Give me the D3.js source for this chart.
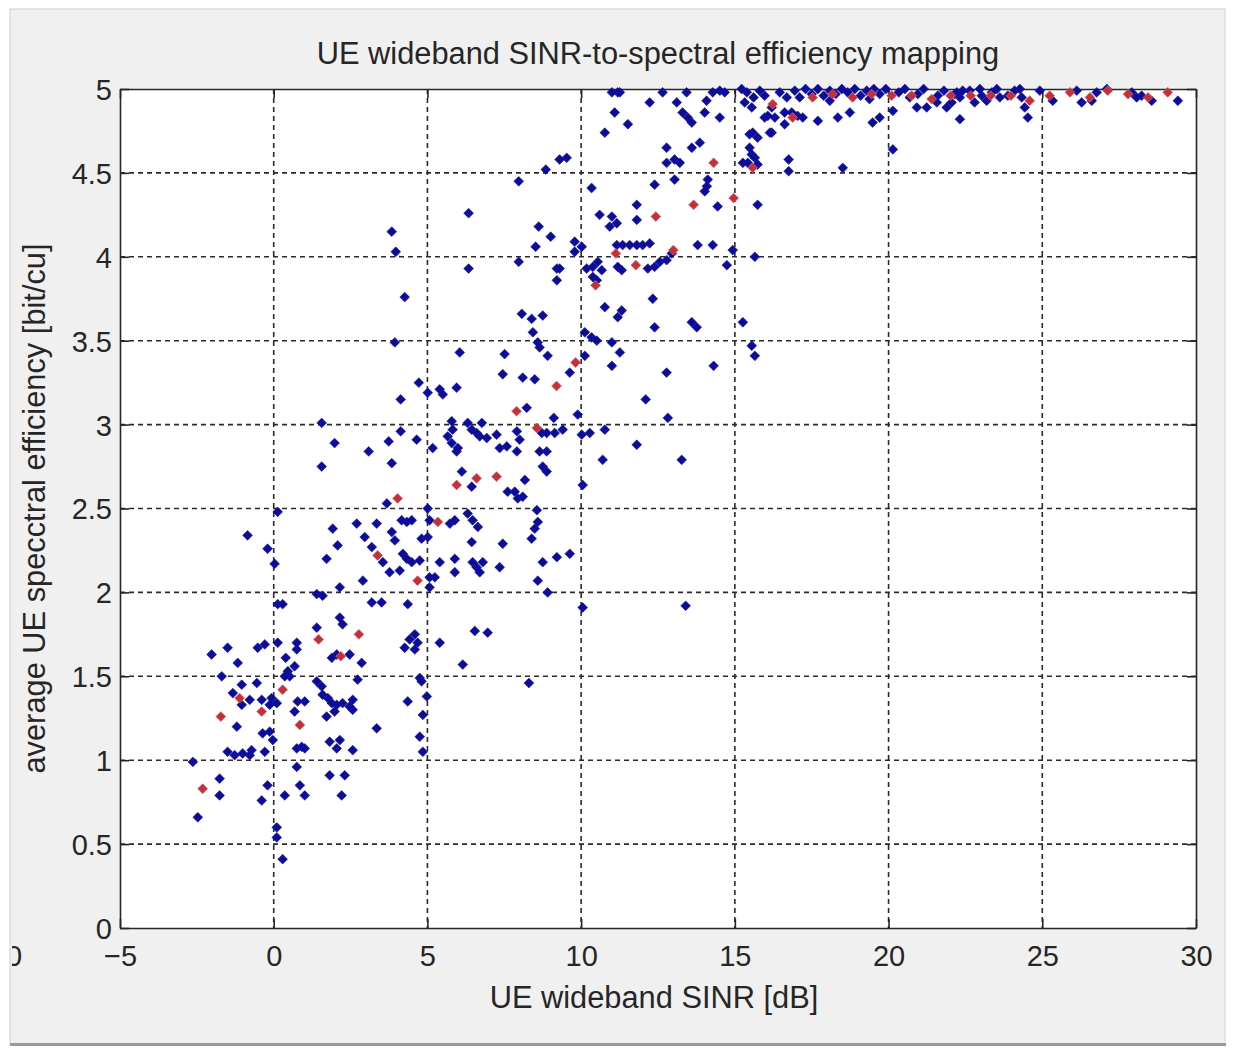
<!DOCTYPE html>
<html>
<head>
<meta charset="utf-8">
<script src="https://cdn.jsdelivr.net/npm/d3@7"></script>
<style>
  html, body { margin: 0; padding: 0; background: #ffffff; }
  svg { display: block; }
  text { font-family: "Liberation Sans", Arial, sans-serif; fill: #262626; }
</style>
</head>
<body>
<svg id="fig" width="1233" height="1049"></svg>
<script>
// Per-UE samples: wideband SINR [dB] and average spectral efficiency [bit/cu]
const uePoints = [
  [-1.50,1.67],[-0.52,1.67],[-0.29,1.69],[0.13,1.70],[0.75,1.70],[0.75,1.66],[-2.02,1.63],[-1.17,1.58],[0.39,1.61],[0.68,1.56],
  [0.46,1.53],[0.52,1.50],[1.89,1.61],[2.05,1.63],[2.47,1.63],[2.86,1.58],[-1.69,1.50],[-1.04,1.45],[-0.55,1.46],[-1.33,1.40],
  [-1.04,1.33],[-0.78,1.36],[-0.39,1.36],[-0.07,1.37],[-0.13,1.33],[0.10,1.34],[0.36,1.50],[1.40,1.47],[1.56,1.44],[1.59,1.39],
  [1.76,1.37],[1.89,1.34],[2.05,1.33],[2.24,1.34],[1.72,1.26],[1.98,1.29],[1.01,1.35],[0.78,1.35],[2.57,1.36],[2.57,1.30],
  [2.47,1.32],[2.73,1.48],[0.68,1.29],[-1.20,1.20],[-0.36,1.16],[-0.13,1.17],[-0.03,1.12],[0.75,1.07],[0.91,1.08],[1.01,1.07],
  [1.82,1.11],[2.15,1.12],[2.05,1.07],[2.57,1.06],[3.35,1.19],[-1.50,1.05],[-1.27,1.03],[-1.01,1.04],[-0.72,1.06],[-0.78,1.03],
  [-0.29,1.05],[-2.63,0.99],[0.75,0.96],[-1.76,0.89],[-1.76,0.79],[-0.20,0.85],[-0.39,0.76],[0.85,0.85],[1.01,0.79],[0.36,0.79],
  [1.82,0.91],[2.31,0.91],[2.21,0.79],[-2.47,0.66],[0.10,0.60],[0.10,0.54],[0.29,0.41],
  [1.56,3.01],[1.98,2.89],[3.09,2.84],[1.56,2.75],[0.13,2.48],[-0.85,2.34],[-0.20,2.26],[0.03,2.17],[1.92,2.38],[2.08,2.28],
  [1.72,2.20],[2.70,2.41],[2.96,2.33],[3.19,2.27],[3.35,2.41],[2.90,2.07],[2.15,2.03],[1.40,1.99],[1.59,1.98],[0.13,1.93],
  [0.29,1.93],[3.19,1.94],[2.15,1.85],[2.24,1.81],[1.40,1.79],
  [3.84,2.77],[6.12,2.72],[6.44,2.63],[8.17,2.67],[8.75,2.75],[8.88,2.72],[7.61,2.60],[7.84,2.60],[7.94,2.56],[8.10,2.57],
  [3.68,2.53],[5.01,2.50],[4.16,2.43],[4.33,2.42],[4.49,2.43],[5.07,2.43],[5.73,2.41],[5.89,2.43],[6.31,2.47],[6.47,2.43],
  [6.64,2.39],[8.56,2.49],[8.59,2.42],[8.49,2.38],[8.39,2.32],[3.84,2.36],[3.94,2.31],[4.81,2.32],[5.01,2.33],[6.44,2.30],
  [7.45,2.29],[4.20,2.23],[4.33,2.20],[4.49,2.18],[4.75,2.19],[5.40,2.18],[5.89,2.20],[5.89,2.12],[6.47,2.18],[6.60,2.15],
  [6.70,2.12],[6.80,2.18],[7.35,2.15],[8.75,2.18],[9.21,2.21],[3.55,2.18],[3.77,2.12],[4.10,2.13],[5.07,2.09],[5.24,2.09],
  [5.07,2.03],[8.59,2.07],[8.91,2.00],[3.51,1.94],[4.36,1.93],[4.59,1.75],[4.42,1.72],[4.26,1.67],[4.59,1.66],[4.68,1.70],
  [5.40,1.70],[6.54,1.77],[6.96,1.76],[6.15,1.57],[4.75,1.49],[4.81,1.47],[8.30,1.46],[4.36,1.35],[4.98,1.38],[4.85,1.27],
  [4.75,1.14],[4.85,1.05],
  [6.34,4.26],[3.84,4.15],[3.97,4.03],[6.34,3.93],[7.97,3.97],[8.62,4.18],[9.01,4.12],[8.52,4.06],[9.21,3.93],[9.21,3.86],
  [4.26,3.76],[8.07,3.66],[8.39,3.63],[8.75,3.65],[8.43,3.55],[8.59,3.49],[8.65,3.46],[8.91,3.41],[3.94,3.49],[6.05,3.43],
  [7.51,3.42],[7.45,3.30],[8.10,3.28],[8.49,3.27],[4.72,3.25],[5.01,3.19],[5.40,3.21],[5.50,3.18],[5.95,3.22],[4.13,3.15],
  [8.23,3.10],[9.11,3.04],[3.74,2.90],[4.13,2.96],[4.65,2.91],[5.17,2.86],[5.79,3.02],[5.82,2.97],[5.66,2.93],[5.79,2.89],
  [5.99,2.86],[5.95,2.84],[6.31,3.01],[6.44,2.97],[6.60,2.95],[6.77,3.01],[6.70,2.93],[6.93,2.92],[7.25,2.94],[7.91,2.96],
  [8.00,2.91],[7.91,2.84],[7.35,2.86],[7.58,2.87],[8.72,2.95],[8.88,2.95],[9.14,2.95],[8.65,2.84],[8.88,2.84],[7.97,4.45],
  [8.85,4.52],
  [11.00,4.98],[11.19,4.98],[11.26,4.98],[12.65,4.98],[12.23,4.92],[13.11,4.92],[13.43,4.98],[14.08,4.93],[14.28,4.98],[14.51,4.99],
  [14.67,4.98],[11.09,4.86],[11.52,4.79],[10.77,4.74],[13.30,4.86],[13.47,4.83],[13.60,4.80],[14.02,4.86],[14.51,4.83],[9.53,4.59],
  [9.30,4.58],[12.78,4.65],[12.78,4.56],[13.04,4.58],[13.21,4.56],[13.60,4.65],[13.86,4.68],[13.04,4.46],[12.39,4.43],[14.12,4.46],
  [14.09,4.42],[14.02,4.39],[10.34,4.41],[11.81,4.31],[11.81,4.22],[14.44,4.30],[10.60,4.25],[11.00,4.24],[11.16,4.20],[10.93,4.18],
  [9.79,4.09],[10.02,4.06],[9.79,4.03],[11.16,4.07],[11.35,4.07],[11.58,4.07],[11.81,4.07],[12.00,4.07],[12.23,4.08],[13.79,4.07],
  [14.28,4.07],[14.93,4.04],[10.18,3.93],[10.38,3.94],[10.54,3.97],[10.67,3.92],[11.19,3.94],[11.32,3.92],[12.17,3.93],[12.39,3.94],
  [12.56,3.97],[12.78,3.98],[12.95,4.02],[9.30,3.93],[14.74,3.95],[10.38,3.88],[10.51,3.86],[12.33,3.75],[10.77,3.70],[11.32,3.68],
  [11.19,3.64],[12.39,3.58],[13.60,3.61],[13.76,3.58],[10.12,3.55],[10.34,3.52],[10.51,3.50],[11.00,3.49],
  [10.12,3.41],[9.63,3.31],[11.00,3.35],[11.26,3.43],[12.78,3.31],[14.31,3.35],[12.10,3.15],[12.82,3.04],[9.89,3.06],[9.40,2.97],
  [10.02,2.94],[10.28,2.95],[10.77,2.97],[11.81,2.88],[10.70,2.79],[13.27,2.79],[10.05,2.64],[9.63,2.23],[10.05,1.91],[13.40,1.92],
  [15.39,4.98],[15.32,4.92],[15.55,4.89],[16.46,4.98],[16.69,4.95],[16.20,4.89],[16.07,4.84],[15.97,4.83],[16.30,4.83],[16.62,4.86],
  [16.20,4.74],[16.62,4.79],[16.85,4.86],[15.58,4.74],[15.48,4.73],[17.21,4.83],[17.04,4.84],[17.70,4.81],[18.35,4.83],[18.74,4.86],
  [19.48,4.80],[19.71,4.83],[20.14,4.87],[20.92,4.89],[21.24,4.89],[21.57,4.92],[21.89,4.89],
  [17.30,5.00],[17.50,4.97],[17.70,5.00],[17.89,4.96],[18.09,4.99],[18.28,4.97],[18.48,5.00],[18.67,4.98],[18.90,5.00],[19.09,4.96],
  [19.29,4.99],[19.52,5.00],[19.71,4.97],[19.91,5.00],[20.33,4.98],[20.53,5.00],[20.95,4.97],[21.14,5.00],[21.60,4.96],[21.80,4.99],
  [22.15,4.97],[20.69,4.95],[19.38,4.94],[18.09,4.93],[16.95,4.99],[17.11,4.95],[15.81,4.99],[15.97,4.96],[15.61,4.95],[15.22,5.00],
  [15.74,4.71],[16.14,4.74],[15.48,4.65],[15.55,4.61],[15.65,4.59],[15.26,4.56],[15.42,4.56],[15.74,4.55],[16.75,4.58],[16.75,4.51],
  [18.51,4.53],[20.14,4.64],[15.74,4.31],[15.65,4.00],[15.26,3.61],[15.55,3.47],[15.65,3.41],
  [22.22,4.98],[22.41,4.99],[22.32,4.95],[22.97,5.00],[23.03,4.96],[22.80,4.92],[23.19,4.93],[23.52,5.00],[23.62,4.95],[24.10,4.99],
  [24.27,5.00],[24.33,4.95],[24.43,4.89],[24.92,4.99],[25.34,4.93],[26.12,4.99],[26.28,4.92],[26.61,4.93],[26.77,4.98],[27.10,5.00],
  [27.91,4.98],[28.07,4.95],[28.23,4.96],[28.56,4.93],[29.41,4.93],[22.32,4.82],[24.53,4.83],[22.05,4.92],[22.64,4.99],[23.36,4.98],
  [23.88,4.96]
];

// Binned mean of the mapping (one value per SINR bin)
const binMeans = [
  [-2.31,0.83],[-1.72,1.26],[-1.11,1.37],[-0.39,1.29],[0.29,1.42],[0.85,1.21],[1.46,1.72],[2.18,1.62],[2.77,1.75],[3.38,2.22],
  [4.03,2.56],[4.68,2.07],[5.34,2.42],[5.95,2.64],[6.60,2.68],[7.25,2.69],[7.90,3.08],[8.56,2.98],[9.20,3.23],[9.82,3.37],
  [10.47,3.83],[11.13,4.02],[11.78,3.95],[12.43,4.24],[13.00,4.04],[13.66,4.31],[14.31,4.56],[14.96,4.35],[15.58,4.53],[16.23,4.91],
  [16.88,4.83],[17.53,4.95],[18.18,4.97],[18.83,4.95],[19.45,4.97],[20.10,4.96],[20.75,4.96],[21.40,4.94],[22.02,4.96],[22.67,4.96],
  [23.32,4.96],[23.98,4.96],[24.59,4.93],[25.24,4.96],[25.90,4.98],[26.55,4.95],[27.13,4.99],[27.79,4.97],[28.44,4.95],[29.08,4.98]
];

const xTicks = [-5, 0, 5, 10, 15, 20, 25, 30];
const yTicks = [0, 0.5, 1, 1.5, 2, 2.5, 3, 3.5, 4, 4.5, 5];

const titleText = "UE wideband SINR-to-spectral efficiency mapping";
const xLabelText = "UE wideband SINR [dB]";
const yLabelText = "average UE specctral efficiency [bit/cu]";

const W = 1233, H = 1049;
const plot = { left: 120, right: 1196, top: 89, bottom: 928 };
const labelSize = 30.8, tickSize = 29;

const svg = d3.select("#fig");

// window frame and grey figure background
svg.append("rect").attr("x", 0).attr("y", 0).attr("width", W).attr("height", H).attr("fill", "#ffffff");
svg.append("defs").append("clipPath").attr("id", "figClip")
  .append("rect").attr("x", 12).attr("y", 10).attr("width", 1212).attr("height", 1033);
svg.append("rect").attr("x", 10).attr("y", 9).attr("width", 1215).attr("height", 1035)
  .attr("fill", "#f0f0f0").attr("stroke", "#cfcfcf").attr("stroke-width", 1);
svg.append("line").attr("x1", 10).attr("x2", 1226).attr("y1", 1044.5).attr("y2", 1044.5)
  .attr("stroke", "#9a9a9a").attr("stroke-width", 3);

const fig = svg.append("g").attr("clip-path", "url(#figClip)");

const x = d3.scaleLinear().domain([-5, 30]).range([plot.left, plot.right]);
const y = d3.scaleLinear().domain([0, 5]).range([plot.bottom, plot.top]);

// axes background
fig.append("rect").attr("x", plot.left).attr("y", plot.top)
  .attr("width", plot.right - plot.left).attr("height", plot.bottom - plot.top)
  .attr("fill", "#ffffff");

// dotted grid
const grid = fig.append("g").attr("stroke", "#2a2a2a").attr("stroke-width", 1.6)
  .attr("stroke-dasharray", "5,4");
grid.selectAll("line.gx").data(xTicks.slice(1, -1)).join("line")
  .attr("x1", d => x(d)).attr("x2", d => x(d)).attr("y1", plot.top).attr("y2", plot.bottom);
grid.selectAll("line.gy").data(yTicks.slice(1, -1)).join("line")
  .attr("y1", d => y(d)).attr("y2", d => y(d)).attr("x1", plot.left).attr("x2", plot.right);

// axes with inward ticks on all four sides
const tickLen = 9;
const styleAxis = g => {
  g.selectAll(".domain").attr("stroke", "#262626").attr("stroke-width", 1.6);
  g.selectAll(".tick line").attr("stroke", "#262626").attr("stroke-width", 1.6);
};
fig.append("g").attr("transform", `translate(0,${plot.bottom})`)
  .call(d3.axisBottom(x).tickValues(xTicks).tickSize(-tickLen).tickSizeOuter(0).tickFormat(d3.format("d")))
  .call(styleAxis)
  .call(g => g.selectAll(".tick text").attr("y", 17).attr("dy", "0.71em")
    .attr("font-size", tickSize).attr("font-family", "Liberation Sans, Arial, sans-serif").attr("fill", "#262626"));
fig.append("g").attr("transform", `translate(0,${plot.top})`)
  .call(d3.axisTop(x).tickValues(xTicks).tickSize(-tickLen).tickSizeOuter(0).tickFormat(""))
  .call(styleAxis);
fig.append("g").attr("transform", `translate(${plot.left},0)`)
  .call(d3.axisLeft(y).tickValues(yTicks).tickSize(-tickLen).tickSizeOuter(0).tickFormat(d3.format("")))
  .call(styleAxis)
  .call(g => g.selectAll(".tick text").attr("x", -8).attr("dy", "0.36em")
    .attr("font-size", tickSize).attr("font-family", "Liberation Sans, Arial, sans-serif").attr("fill", "#262626"));
fig.append("g").attr("transform", `translate(${plot.right},0)`)
  .call(d3.axisRight(y).tickValues(yTicks).tickSize(-tickLen).tickSizeOuter(0).tickFormat(""))
  .call(styleAxis);

// stray tick label of a neighbouring axis, mostly cut by the frame
fig.append("text").attr("x", 14).attr("y", 966).attr("text-anchor", "middle")
  .attr("font-size", tickSize).text("0");

// markers
const diamond = "M0,-4.9L4.9,0L0,4.9L-4.9,0Z";
fig.append("g").selectAll("path").data(uePoints).join("path")
  .attr("d", diamond)
  .attr("transform", d => `translate(${x(d[0])},${y(d[1])})`)
  .attr("fill", "#0c0c98").attr("stroke", "#1a1aaa").attr("stroke-width", 0.6);
fig.append("g").selectAll("path").data(binMeans).join("path")
  .attr("d", diamond)
  .attr("transform", d => `translate(${x(d[0])},${y(d[1])})`)
  .attr("fill", "#c2303a").attr("stroke", "#d8606a").attr("stroke-width", 0.8);

// texts
fig.append("text").attr("x", (plot.left + plot.right) / 2).attr("y", 64)
  .attr("text-anchor", "middle").attr("font-size", labelSize).text(titleText);
fig.append("text").attr("x", (plot.left + plot.right) / 2 - 4).attr("y", 1008)
  .attr("text-anchor", "middle").attr("font-size", labelSize).text(xLabelText);
fig.append("text").attr("transform", `translate(45,${(plot.top + plot.bottom) / 2}) rotate(-90)`)
  .attr("text-anchor", "middle").attr("font-size", labelSize).text(yLabelText);
</script>
</body>
</html>
